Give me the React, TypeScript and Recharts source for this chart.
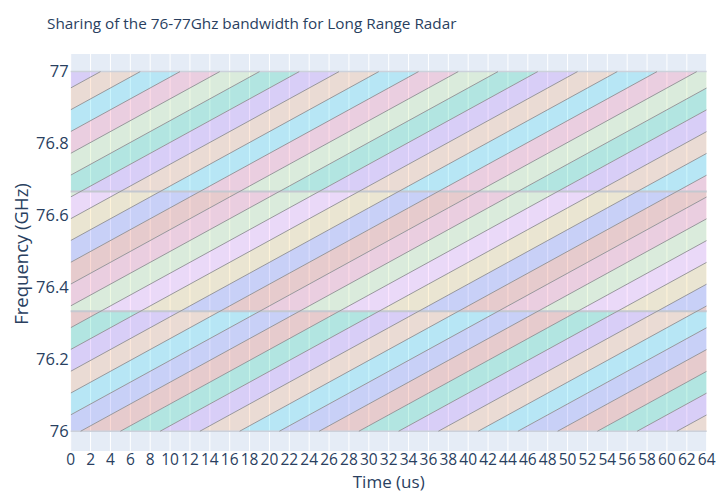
import React from 'react';
import { ComposedChart, Area, Line, XAxis, YAxis, CartesianGrid, ReferenceLine } from 'recharts';

// ---- data ----
const BAND_EDGES = [76, 76.3333, 76.6667, 77];
const BAND_COLORS = [
  ['#636efa', '#EF553B', '#00cc96', '#ab63fa', '#FFA15A', '#19d3f3'],
  ['#FF6692', '#B6E880', '#FF97FF', '#FECB52', '#636efa', '#EF553B'],
  ['#B6E880', '#00cc96', '#ab63fa', '#FFA15A', '#19d3f3', '#FF6692'],
];
const SWEEP_US = 66; // time a chirp needs to sweep 76 -> 77 GHz
const LINE_SPACING_US = 4; // delay between consecutive chirps
const FIRST_LINE_US = 1; // a chirp crosses 76 GHz at t = 1 us
const T_RANGE = [0, 64];
const X_TICKS = [0, 2, 4, 6, 8, 10, 12, 14, 16, 18, 20, 22, 24, 26, 28, 30, 32, 34, 36, 38, 40, 42, 44, 46, 48, 50, 52, 54, 56, 58, 60, 62, 64];
const Y_TICKS = [76, 76.2, 76.4, 76.6, 76.8, 77];
const Y_DOMAIN = [75.945, 77.049];
const CHIRP_INDEX_RANGE = [-20, 20];

const FONT = '"Open Sans", verdana, arial, sans-serif';
const TEXT = '#2a3f5f';

const freqAt = (a: number, t: number) => 76 + (t - a) / SWEEP_US;
const timeAt = (a: number, f: number) => a + (f - 76) * SWEEP_US;

type Stripe = { key: string; color: string; data: { t: number; r: [number, number] }[] };
const stripes: Stripe[] = [];
for (let b = 0; b < 3; b++) {
  const fb = BAND_EDGES[b];
  const ft = BAND_EDGES[b + 1];
  for (let m = CHIRP_INDEX_RANGE[0]; m <= CHIRP_INDEX_RANGE[1]; m++) {
    const aU = FIRST_LINE_US + LINE_SPACING_US * (m - 1);
    const aL = aU + LINE_SPACING_US;
    const start = Math.max(T_RANGE[0], timeAt(aU, fb));
    const end = Math.min(T_RANGE[1], timeAt(aL, ft));
    if (end <= start) continue;
    const ts = [start, end, timeAt(aU, ft), timeAt(aL, fb)]
      .filter((t) => t >= start && t <= end)
      .sort((x, y) => x - y)
      .filter((t, i, arr) => i === 0 || Math.abs(t - arr[i - 1]) > 1e-9);
    const data = ts.map((t) => ({
      t,
      r: [Math.max(fb, freqAt(aL, t)), Math.min(ft, freqAt(aU, t))] as [number, number],
    }));
    stripes.push({ key: `s${b}_${m}`, color: BAND_COLORS[b][((m % 6) + 6) % 6], data });
  }
}

type ChirpLine = { key: string; data: { t: number; f: number }[] };
const chirpLines: ChirpLine[] = [];
for (let m = CHIRP_INDEX_RANGE[0]; m <= CHIRP_INDEX_RANGE[1]; m++) {
  const a = FIRST_LINE_US + LINE_SPACING_US * m;
  const t0 = Math.max(T_RANGE[0], a);
  const t1 = Math.min(T_RANGE[1], a + SWEEP_US);
  if (t1 <= t0) continue;
  chirpLines.push({ key: `l${m}`, data: [{ t: t0, f: freqAt(a, t0) }, { t: t1, f: freqAt(a, t1) }] });
}

export default function App() {
  return (
    <div style={{ position: 'absolute', left: 0, top: 0, width: 716, height: 493, background: '#fff' }}>
      <ComposedChart width={716} height={493} margin={{ top: 54, right: 9.3, bottom: 0, left: 0 }}>
        <CartesianGrid horizontal={false} stroke="#ffffff" strokeWidth={1} fill="#E5ECF6" fillOpacity={1} />
        <XAxis
          type="number"
          dataKey="t"
          domain={T_RANGE}
          ticks={X_TICKS}
          interval={0}
          height={42}
          tickLine={false}
          axisLine={false}
          tickSize={0}
          tickMargin={3}
          allowDataOverflow
          tick={{ fill: TEXT, fontSize: 15.5, fontFamily: FONT }}
        />
        <YAxis
          type="number"
          domain={Y_DOMAIN}
          ticks={Y_TICKS}
          width={70.7}
          tickLine={false}
          axisLine={false}
          tickSize={0}
          tickMargin={2}
          allowDataOverflow
          tick={{ fill: TEXT, fontSize: 16.5, fontFamily: FONT }}
        />
        {stripes.map((s) => (
          <Area
            key={s.key}
            data={s.data}
            dataKey="r"
            type="linear"
            stroke="none"
            fill={s.color}
            fillOpacity={0.22}
            dot={false}
            activeDot={false}
            isAnimationActive={false}
          />
        ))}
        {BAND_EDGES.map((e, i) => (
          <ReferenceLine
            key={`e${i}`}
            y={e}
            stroke={i === 0 || i === 3 ? '#ccd1db' : '#c4c8d0'}
            strokeWidth={i === 0 || i === 3 ? 1.5 : 2}
          />
        ))}
        {chirpLines.map((l) => (
          <Line
            key={l.key}
            data={l.data}
            dataKey="f"
            type="linear"
            stroke="#98989c"
            strokeWidth={1}
            dot={false}
            activeDot={false}
            isAnimationActive={false}
          />
        ))}
      </ComposedChart>
      <svg width={716} height={493} style={{ position: 'absolute', left: 0, top: 0, pointerEvents: 'none' }}>
        <text x={47} y={29} fill={TEXT} fontSize={15.3} fontFamily={FONT}>
          Sharing of the 76-77Ghz bandwidth for Long Range Radar
        </text>
        <text x={388.7} y={488} fill={TEXT} fontSize={17} fontFamily={FONT} textAnchor="middle">
          Time (us)
        </text>
        <text
          x={28}
          y={254}
          fill={TEXT}
          fontSize={18.5}
          fontFamily={FONT}
          textAnchor="middle"
          transform="rotate(-90 28 254)"
        >
          Frequency (GHz)
        </text>
      </svg>
    </div>
  );
}
